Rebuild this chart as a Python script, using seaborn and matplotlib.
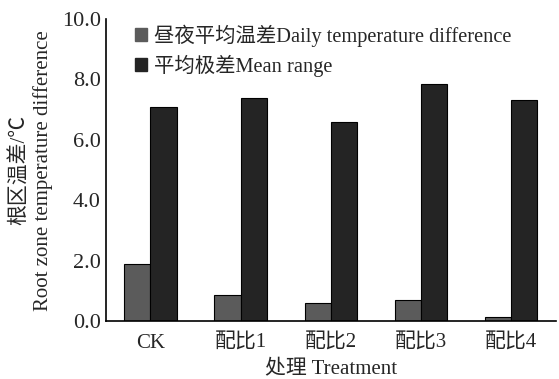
import matplotlib
matplotlib.use("Agg")
import matplotlib.pyplot as plt
import seaborn as sns
import pandas as pd
from matplotlib.ticker import FormatStrFormatter
from matplotlib.patches import Patch

categories = ["CK", "配比1", "配比2", "配比3", "配比4"]
daily_diff = [1.91, 0.88, 0.61, 0.72, 0.14]
mean_range = [7.10, 7.37, 6.58, 7.86, 7.31]
series_names = ["昼夜平均温差Daily temperature difference", "平均极差Mean range"]
yticks = [0, 2, 4, 6, 8, 10]

sns.set_theme(style="white")
FAM = ["Liberation Serif", "Noto Sans CJK SC", "DejaVu Sans"]
plt.rcParams["font.family"] = FAM

df = pd.DataFrame({
    "cat": categories * 2,
    "val": daily_diff + mean_range,
    "series": [series_names[0]] * len(categories) + [series_names[1]] * len(categories),
})

colors = ["#5b5b5b", "#242424"]
fig = plt.figure(figsize=(5.59, 3.79), dpi=100)
ax = fig.add_axes([0.19, 0.152, 0.805, 0.798])
sns.barplot(data=df, x="cat", y="val", hue="series", palette=colors, width=0.58,
            edgecolor="black", linewidth=0.8, ax=ax, legend=False, saturation=1)

ax.set_ylim(0, 10)
ax.set_xlim(-0.49, 4.5)
ax.set_yticks(yticks)
ax.yaxis.set_major_formatter(FormatStrFormatter("%.1f"))
ax.tick_params(axis="y", direction="in", length=5, width=1, color="black", labelsize=16, pad=4)
ax.tick_params(axis="x", length=0, labelsize=15, pad=9)
for s in ["top", "right"]:
    ax.spines[s].set_visible(False)
for s in ["left", "bottom"]:
    ax.spines[s].set_color("black")
    ax.spines[s].set_linewidth(1.2)

ax.set_xlabel("处理 Treatment", fontsize=15, labelpad=5)
ax.set_ylabel("根区温差/℃\nRoot zone temperature difference", fontsize=15, linespacing=1.15)
ax.yaxis.set_label_coords(-0.119, 0.5)

handles = [Patch(facecolor=colors[0], edgecolor=colors[0]), Patch(facecolor=colors[1], edgecolor=colors[1])]
ax.legend(handles, series_names, loc="upper left", bbox_to_anchor=(0.032, 1.03), frameon=False,
          fontsize=14.7, handlelength=0.6, handleheight=0.6, handletextpad=0.35, labelspacing=0.4,
          borderaxespad=0.3)

fig.savefig("out.png", dpi=100)
